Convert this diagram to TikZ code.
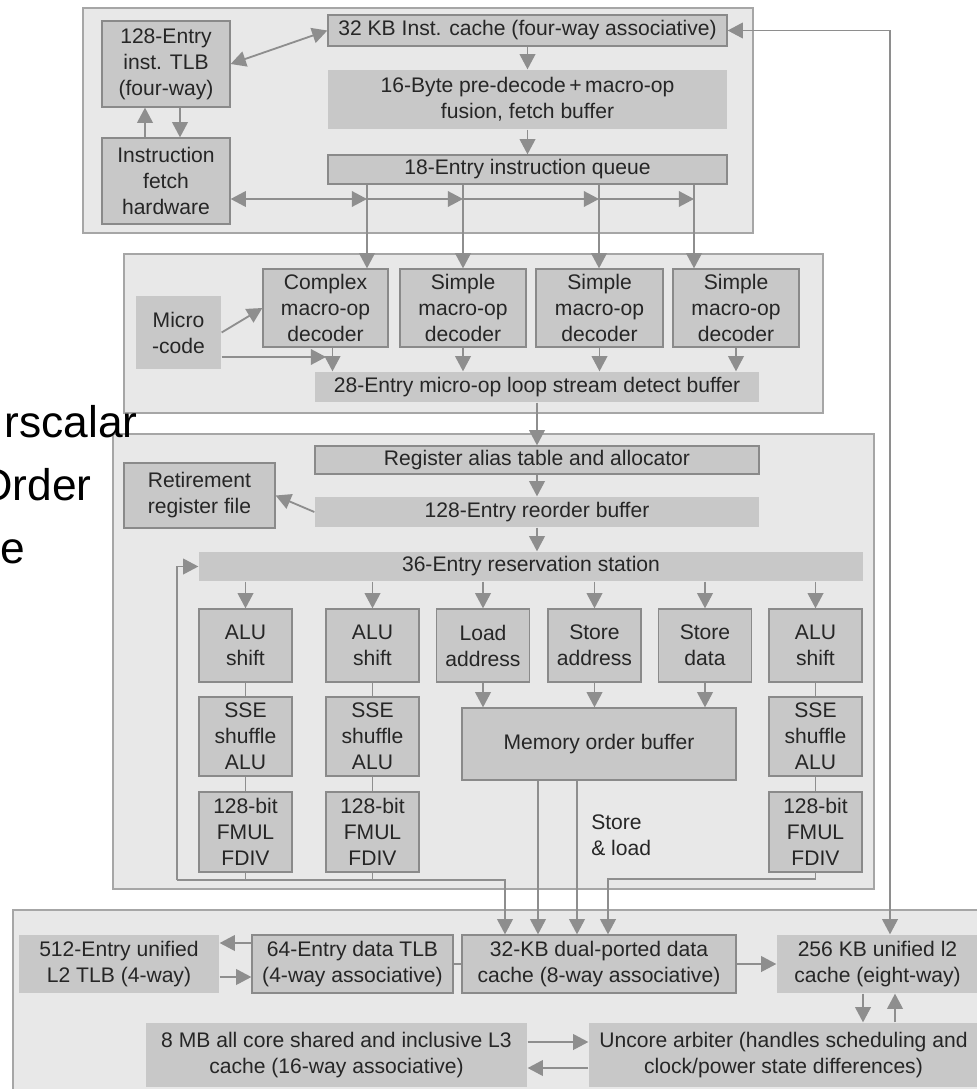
\documentclass[tikz,border=0pt]{standalone}
\usepackage{fontspec}
\setmainfont{Liberation Sans}
\usetikzlibrary{arrows.meta,calc}

\definecolor{blockfill}{HTML}{E8E8E8}
\definecolor{blockedge}{HTML}{A6A6A6}
\definecolor{boxfill}{HTML}{C8C8C8}
\definecolor{boxedge}{HTML}{8A8A8A}
\definecolor{wire}{HTML}{8E8E8E}
\definecolor{ink}{HTML}{262626}

\begin{document}
\begin{tikzpicture}[x=0.025cm, y=-0.025cm,
    font=\fontsize{15}{18.5}\selectfont,
    sz/.style 2 args={minimum width=#1*0.025cm, minimum height=#2*0.025cm},
    blockarea/.style={fill=blockfill, draw=blockedge, line width=1pt},
    unit/.style={fill=boxfill, draw=boxedge, line width=0.9pt, text=ink, align=center, inner sep=0pt},
    flat/.style={unit, draw=none},
    wireline/.style={draw=wire, line width=1.3pt},
    arr/.style={wireline, -{Triangle[length=3.8mm, width=3.9mm]}},
    dblarr/.style={wireline, {Triangle[length=3.8mm, width=3.9mm]}-{Triangle[length=3.8mm, width=3.9mm]}}]

    % Page and the four pipeline areas
    \useasboundingbox (0,0) rectangle (976,1089);
    \fill[white] (0,0) rectangle (976,1089);
    \draw[blockarea] (83,8) rectangle (753,233);
    \draw[blockarea] (124,254) rectangle (823,413);
    \draw[blockarea] (113,434) rectangle (874,889);
    \draw[blockarea] (13,910) rectangle (990,1100);

    % Fetch
    \node[unit, sz={128}{86}] (itlb) at (166,64) {128-Entry\\inst. TLB\\(four-way)};
    \node[unit, sz={128}{86}] (ifetch) at (166,181) {Instruction\\fetch\\hardware};
    \node[unit, sz={399}{31}] (icache) at (527.5,30.5) {32 KB Inst. cache (four-way associative)};
    \node[flat, sz={399}{59}] (predec) at (527.5,99.5) {16-Byte pre-decode\,+\,macro-op\\fusion, fetch buffer};
    \node[unit, sz={399}{29}] (iq) at (527.5,169.5) {18-Entry instruction queue};

    % Decode
    \node[flat, sz={85}{73}] (ucode) at (178.5,332.5) {Micro\\-code};
    \node[unit, sz={125}{78}] (cdec) at (325.5,308) {Complex\\macro-op\\decoder};
    \node[unit, sz={126}{78}] (sdeca) at (463,308) {Simple\\macro-op\\decoder};
    \node[unit, sz={127}{78}] (sdecb) at (599.5,308) {Simple\\macro-op\\decoder};
    \node[unit, sz={126}{78}] (sdecc) at (736,308) {Simple\\macro-op\\decoder};
    \node[flat, sz={444}{30}] (lsd) at (537,387) {28-Entry micro-op loop stream detect buffer};

    % Rename, retire and schedule
    \node[unit, sz={444}{28}] (rat) at (537,460) {Register alias table and allocator};
    \node[flat, sz={444}{30}] (rob) at (537,512) {128-Entry reorder buffer};
    \node[unit, sz={151}{65}] (rrf) at (199.5,495.5) {Retirement\\register file};
    \node[flat, sz={664}{29}] (rs) at (531,566.5) {36-Entry reservation station};

    % Execution units
    \foreach \n/\cx/\t in {alua/245.5/{ALU\\shift}, alub/372.5/{ALU\\shift},
                           lda/483/{Load\\address}, sta/594.5/{Store\\address},
                           std/705/{Store\\data}, aluc/815.5/{ALU\\shift}}
        \node[unit, sz={93}{73}] (\n) at (\cx,645.5) {\t};
    \foreach \c/\cx in {a/245.5, b/372.5, c/815.5} {
        \node[unit, sz={93}{79}] (sse\c) at (\cx,736.5) {SSE\\shuffle\\ALU};
        \node[unit, sz={93}{80}] (fpu\c) at (\cx,832) {128-bit\\FMUL\\FDIV};
        \draw[wireline] (alu\c) -- (sse\c) -- (fpu\c);
    }
    \node[unit, sz={274}{72}] (mob) at (599,744) {Memory order buffer};
    \node[text=ink, align=left, anchor=west, inner sep=0pt] (stld) at (591,835) {Store\\\& load};

    % Memory
    \node[flat, sz={200}{58}] (l2tlb) at (119,964) {512-Entry unified\\L2 TLB (4-way)};
    \node[unit, sz={201}{58}] (dtlb) at (352.5,964) {64-Entry data TLB\\(4-way associative)};
    \node[unit, sz={274}{58}] (dcache) at (599,964) {32-KB dual-ported data\\cache (8-way associative)};
    \node[flat, sz={201}{58}] (l2) at (877.5,964) {256 KB unified l2\\cache (eight-way)};
    \node[flat, sz={381}{64}] (l3) at (336.5,1055) {8 MB all core shared and inclusive L3\\cache (16-way associative)};
    \node[flat, sz={389}{64}] (uncore) at (783.5,1055) {Uncore arbiter (handles scheduling and\\clock/power state differences)};

    % Coordinates for bends and joins
    \coordinate (qa) at (367,199);
    \coordinate (qb) at (463,199);
    \coordinate (qc) at (599,199);
    \coordinate (qd) at (694,199);
    \coordinate (umerge) at (326,357);
    \coordinate (fbl) at (177,880);
    \coordinate (fbr) at (505,880);
    \coordinate (fpr) at (608,879);

    % Fetch connectors
    \draw[dblarr] (itlb.east) -- (icache.west);
    \draw[arr] ($(itlb.south)+(14,0)$) -- ($(ifetch.north)+(14,0)$);
    \draw[arr] ($(ifetch.north)+(-21,0)$) -- ($(itlb.south)+(-21,0)$);
    \draw[arr] (icache) -- (predec);
    \draw[arr] (predec) -- (iq);
    \draw[dblarr] (ifetch.east |- qa) -- (qa);
    \draw[arr] (qa) -- (qb);
    \draw[arr] (qb) -- (qc);
    \draw[arr] (qc) -- (qd);
    \draw[arr] (iq.south -| qa) -- (cdec.north -| qa);
    \draw[arr] (iq.south -| qb) -- (sdeca.north -| qb);
    \draw[arr] (iq.south -| qc) -- (sdecb.north -| qc);
    \draw[arr] (iq.south -| qd) -- (sdecc.north -| qd);
    \draw[dblarr] (icache.east) -| ($(l2.north)+(12.5,0)$);

    % Decode connectors
    \draw[arr] (ucode.east) -- (cdec.west);
    \draw[arr] (ucode.east |- umerge) -- (umerge);
    \draw[arr] ($(cdec.south)+(7,0)$) -- ($(cdec.south |- lsd.north)+(7,0)$);
    \foreach \n in {sdeca,sdecb,sdecc}
        \draw[arr] (\n) -- (\n |- lsd.north);
    \draw[arr] (lsd) -- (rat);

    % Rename and issue connectors
    \draw[arr] (rat) -- (rob);
    \draw[arr] (rob.west) -- (rrf.east);
    \draw[arr] (rob.south) -- (rob.south |- rs.north);
    \foreach \n in {alua,alub,lda,sta,std,aluc}
        \draw[arr] (rs.south -| \n) -- (\n);
    \foreach \n in {lda,sta,std}
        \draw[arr] (\n) -- (\n |- mob.north);

    % Results to the data cache
    \draw[wireline] (fpua) -- (fpua |- fbl);
    \draw[wireline] (fpub) -- (fpub |- fbl);
    \draw[arr] (fbl) |- (rs.west);
    \draw[arr] (fbl) -- (fbr) -- (dcache.north -| fbr);
    \draw[arr] ($(mob.south)+(-61,0)$) -- ($(dcache.north)+(-61,0)$);
    \draw[arr] ($(mob.south)+(-22,0)$) -- ($(dcache.north)+(-22,0)$);
    \draw[arr] (fpuc) |- (fpr) -- (dcache.north -| fpr);

    % Memory connectors
    \draw[arr] ($(dtlb.west)+(0,-21)$) -- ($(l2tlb.east)+(0,-21)$);
    \draw[arr] ($(l2tlb.east)+(0,13)$) -- ($(dtlb.west)+(0,13)$);
    \draw[wireline] (dtlb) -- (dcache);
    \draw[arr] (dcache) -- (l2);
    \draw[arr] ($(l2.south)+(-14.5,0)$) -- ($(uncore.north -| l2.south)+(-14.5,0)$);
    \draw[arr] ($(uncore.north -| l2.south)+(17.5,0)$) -- ($(l2.south)+(17.5,0)$);
    \draw[arr] ($(l3.east)+(0,-13)$) -- ($(uncore.west)+(0,-13)$);
    \draw[arr] ($(uncore.west)+(0,13)$) -- ($(l3.east)+(0,13)$);

    % Slide title, cut at the left edge
    \begin{scope}[font=\fontsize{31.5}{38}\selectfont]
        \node[anchor=base east, inner sep=0pt] (tla) at (138,437) {rscalar};
        \node[anchor=base east, inner sep=0pt] (tlb) at (92,500) {Order};
        \node[anchor=base east, inner sep=0pt] (tlc) at (25,563) {e};
    \end{scope}
\end{tikzpicture}
\end{document}
